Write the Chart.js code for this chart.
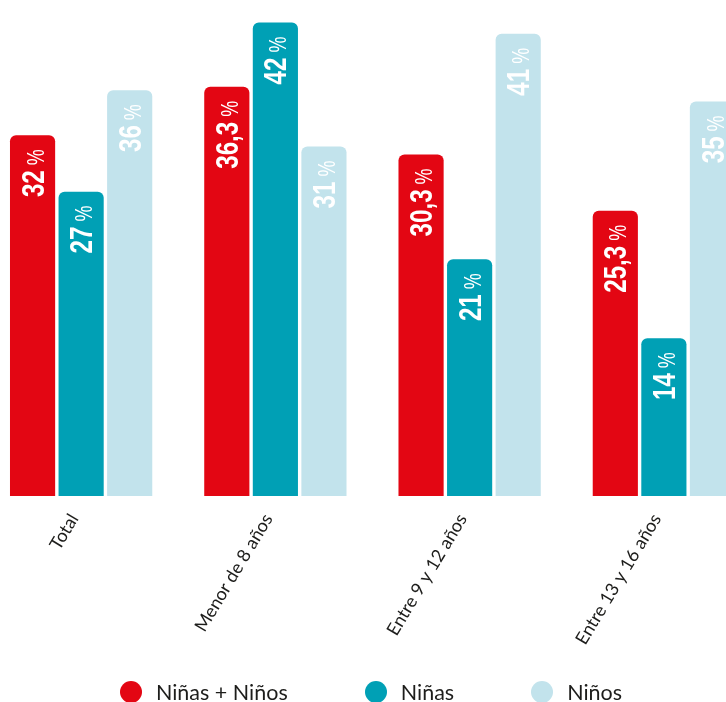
<!DOCTYPE html>
<html lang="es">
<head>
<meta charset="utf-8">
<title>Niñas y niños por edad</title>
<script src="https://cdn.jsdelivr.net/npm/chart.js@4.4.1/dist/chart.umd.min.js"></script>
<style>
  html, body { margin: 0; padding: 0; background: #fff; overflow: hidden; }
  body { width: 726px; height: 702px; position: relative; font-family: Lato, "Open Sans", sans-serif; }
  #wrap { position: absolute; left: -16px; top: 0; width: 777px; height: 702px; }
  #leyenda { position: absolute; left: 0; width: 742px; top: 680px; height: 24px;
             display: flex; justify-content: center; align-items: center; gap: 77px; }
  #leyenda .item { display: flex; align-items: center; gap: 14px; font-size: 21.5px; color: #1d1d1b; white-space: nowrap; }
  #leyenda .punto { width: 22px; height: 22px; border-radius: 50%; flex: none; }
</style>
</head>
<body>
<div id="wrap"><canvas id="edadChart" width="777" height="702"></canvas></div>
<div id="leyenda"></div>
<script>
const categorias = ['Total', 'Menor de 8 años', 'Entre 9 y 12 años', 'Entre 13 y 16 años'];
const series = ['Niñas + Niños', 'Niñas', 'Niños'];
const totalValores = [32, 36.3, 30.3, 25.3];
const ninasValores = [27, 42, 21, 14];
const ninosValores = [36, 31, 41, 35];
const colores = ['#e30613', '#00a0b5', '#c2e3ec'];

const fmt = v => String(v).replace('.', ',');

// vertical value labels near the top of each bar: bold narrow number + lighter "%"
const etiquetasBarras = {
    id: 'etiquetasBarras',
    afterDatasetsDraw(chart) {
        const ctx = chart.ctx;
        const estrecho = 0.78;
        const tamNum = 31;
        chart.data.datasets.forEach((ds, i) => {
            chart.getDatasetMeta(i).data.forEach((bar, j) => {
                const num = fmt(ds.data[j]);
                ctx.save();
                ctx.translate(bar.x, bar.y);
                ctx.rotate(-Math.PI / 2);
                ctx.scale(estrecho, 1);
                ctx.fillStyle = '#fff';
                ctx.textBaseline = 'alphabetic';
                ctx.textAlign = 'right';
                const base = tamNum * 0.716 / 2;
                ctx.font = '23px "Liberation Sans", Arial, sans-serif';
                const pctW = ctx.measureText('%').width;
                const fin = -14 / estrecho;
                ctx.fillText('%', fin, base);
                ctx.font = 'bold ' + tamNum + 'px "Liberation Sans", Arial, sans-serif';
                ctx.fillText(num, fin - pctW - 5 / estrecho, base);
                ctx.restore();
            });
        });
    }
};

new Chart(document.getElementById('edadChart').getContext('2d'), {
    type: 'bar',
    data: {
        labels: categorias,
        datasets: [
            { label: series[0], data: totalValores, backgroundColor: colores[0] },
            { label: series[1], data: ninasValores, backgroundColor: colores[1] },
            { label: series[2], data: ninosValores, backgroundColor: colores[2] }
        ]
    },
    options: {
        responsive: false,
        animation: false,
        categoryPercentage: 0.75,
        barPercentage: 0.93,
        borderRadius: 6,
        layout: { padding: 0 },
        plugins: {
            legend: { display: false },
            tooltip: { enabled: false }
        },
        scales: {
            x: {
                grid: { display: false },
                border: { display: false },
                ticks: {
                    color: '#1d1d1b',
                    minRotation: 59,
                    maxRotation: 59,
                    padding: 6,
                    labelOffset: -7,
                    font: { family: 'Lato, "Open Sans", sans-serif', size: 18 }
                },
                afterFit(scale) { scale.height = 206; }
            },
            y: {
                display: false,
                min: 0,
                max: 44
            }
        }
    },
    plugins: [etiquetasBarras]
});

// legend built from the series names and colours
const leyenda = document.getElementById('leyenda');
series.forEach((nombre, i) => {
    const item = document.createElement('div');
    item.className = 'item';
    const punto = document.createElement('span');
    punto.className = 'punto';
    punto.style.background = colores[i];
    const texto = document.createElement('span');
    texto.textContent = nombre;
    item.append(punto, texto);
    leyenda.appendChild(item);
});
</script>
</body>
</html>
